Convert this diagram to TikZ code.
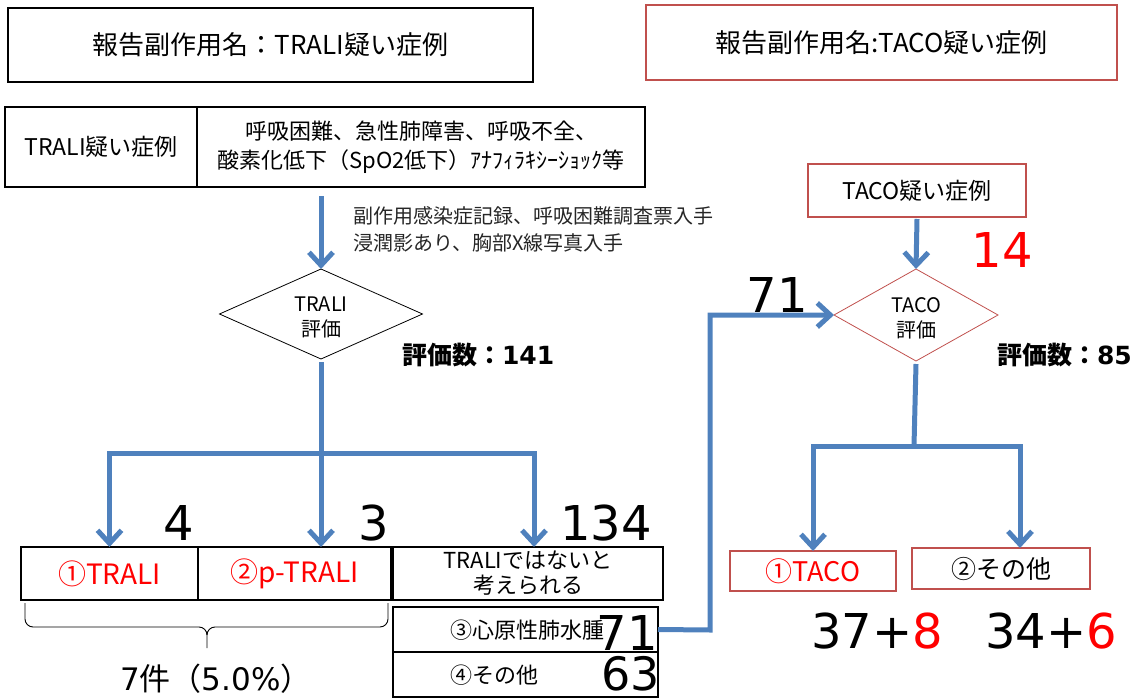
\documentclass[tikz,border=0pt]{standalone}
\usepackage{fontspec}
\setmainfont{Noto Sans CJK JP}
\newfontfamily\numfont{DejaVu Sans}
\usetikzlibrary{arrows.meta,shapes.geometric}
\definecolor{conblue}{HTML}{4F81BD}
\definecolor{boxred}{HTML}{C0504D}
\newcommand\fsz[2]{\fontsize{#1}{#2}\selectfont}
\begin{document}
\begin{tikzpicture}[x=1pt,y=-1pt,
  every node/.style={inner sep=0pt, outer sep=0pt},
  bbox/.style={draw=black, line width=1.6pt},
  rbox/.style={draw=boxred, line width=1.6pt},
  conn/.style={draw=conblue, line width=5pt},
  carr/.style={conn, -{Straight Barb[length=13pt,width=24pt]}},
  num/.style={font=\numfont\fsz{48}{50}},
  lbl/.style={font=\fsz{22}{26}}]
\useasboundingbox (0,0) rectangle (1138,698);

% headers
\node[bbox, minimum width=525pt, minimum height=74pt, font=\fsz{26}{30}] (hT) at (270.5,45) {報告副作用名：TRALI疑い症例};
\node[rbox, minimum width=471pt, minimum height=75pt, font=\fsz{26}{30}] (hC) at (881.5,42.5) {報告副作用名:TACO疑い症例};

% table
\node[bbox, minimum width=192pt, minimum height=80pt, font=\fsz{23}{26}] (t1) at (101,147) {TRALI疑い症例};
\node[bbox, minimum width=448pt, minimum height=80pt, font=\fsz{22}{29}, align=center] (t2) at (421,147) {呼吸困難、急性肺障害、呼吸不全、\\酸素化低下（SpO2低下）ｱﾅﾌｨﾗｷｼｰｼｮｯｸ等};

% annotation
\node[anchor=west, font=\fsz{20}{27}, align=left, text=black!85] (note) at (353,229) {副作用感染症記録、呼吸困難調査票入手\\浸潤影あり、胸部X線写真入手};

% TRALI diamond
\node[draw=black, line width=0.8pt, diamond, minimum width=203pt, minimum height=90pt] (dT) at (321,314) {};
\node[font=\fsz{20}{25}, align=center] (dTt) at (321,317) {TRALI\\評価};
\node[anchor=base west, font=\fsz{25}{28}\bfseries] (nT) at (402,364) {評価数：{\numfont 141}};

\coordinate (a0) at (321,196);
\draw[carr] (a0) -- (dT.north);

% bottom TRALI boxes
\node[bbox, minimum width=177pt, minimum height=53pt, text=red, font=\fsz{28}{30}] (b1) at (109.5,573.5) {①TRALI};
\node[bbox, minimum width=193pt, minimum height=53pt, text=red, font=\fsz{28}{30}] (b2) at (294.5,573.5) {②p-TRALI};
\node[bbox, minimum width=270pt, minimum height=53pt, font=\fsz{22}{25}, align=center] (b3) at (528,573.5) {TRALIではないと\\考えられる};
\node[bbox, line width=1.4pt, minimum width=265pt, minimum height=45pt] (b4) at (525.5,629.5) {};
\node[bbox, line width=1.4pt, minimum width=265pt, minimum height=45pt] (b5) at (525.5,674.5) {};
\node[lbl, anchor=west] (b4t) at (450,630) {③心原性肺水腫};
\node[lbl, anchor=west] (b5t) at (450,675) {④その他};

% branch TRALI
\coordinate (jT) at (321,453);
\coordinate (jR) at (534,453);
\draw[conn] ([yshift=-3pt]dT.south) -- (jT);
\draw[carr] (jT) -| (b1.north);
\draw[carr] (jT) -- (jT |- b2.north);
\draw[carr] (jT) -| (jR |- b3.north);

% numbers TRALI side
\node[num, anchor=base east] (n4) at (194,540) {4};
\node[num, anchor=base east] (n3) at (389,540) {3};
\node[num, anchor=base east] (n134) at (652,540) {134};
\node[num, anchor=base east] (n71) at (658,650) {71};
\node[num, anchor=base east, font=\numfont\fsz{46}{48}] (n63) at (660,690) {63};

% brace
\draw[line width=0.9pt] (25,603) -- (25,619) to[out=-90,in=180] (33,627) -- (199,627) to[out=0,in=90] (207,635) -- (207,648);
\draw[line width=0.9pt] (388,603) -- (388,619) to[out=-90,in=0] (380,627) -- (215,627) to[out=180,in=90] (207,635);
\node[anchor=base west, font=\fsz{31}{33}] (pct) at (120,690) {{\numfont 7}件（{\numfont 5.0\%}）};

% TACO side
\node[rbox, minimum width=218pt, minimum height=53pt, font=\fsz{23}{27}] (cT) at (917,190.5) {TACO疑い症例};
\node[draw=boxred, line width=0.8pt, diamond, minimum width=164pt, minimum height=92pt] (dC) at (916,315) {};
\node[font=\fsz{20}{25}, align=center] (dCt) at (916,318) {TACO\\評価};
\draw[carr] ([yshift=-2pt]cT.south) -- (dC.north);
\node[anchor=base west, font=\fsz{25}{28}\bfseries] (nC) at (997,364) {評価数：{\numfont 85}};
\node[num, anchor=base east, text=red] (n14) at (1033,267) {14};

\coordinate (kV) at (710,630);
\draw[carr] (b4.east) -- (kV) |- (dC.west);
\node[num, anchor=base east] (n71b) at (808,312) {71};

\node[rbox, minimum width=166pt, minimum height=40pt, text=red, font=\fsz{27}{29}] (c1) at (813,571) {①TACO};
\node[rbox, minimum width=178pt, minimum height=41pt, font=\fsz{25}{28}] (c2) at (1001,568.5) {②その他};

\coordinate (jC) at (914,446);
\coordinate (kR) at (1020,446);
\draw[conn] ([yshift=-3pt]dC.south) -- (jC);
\draw[carr] (jC) -| (c1.north);
\draw[carr] (jC) -| (kR |- c2.north);

\node[num, anchor=base west] (r1) at (811,648) {37+\textcolor{red}{8}};
\node[num, anchor=base west] (r2) at (985,648) {34+\textcolor{red}{6}};
\end{tikzpicture}
\end{document}
